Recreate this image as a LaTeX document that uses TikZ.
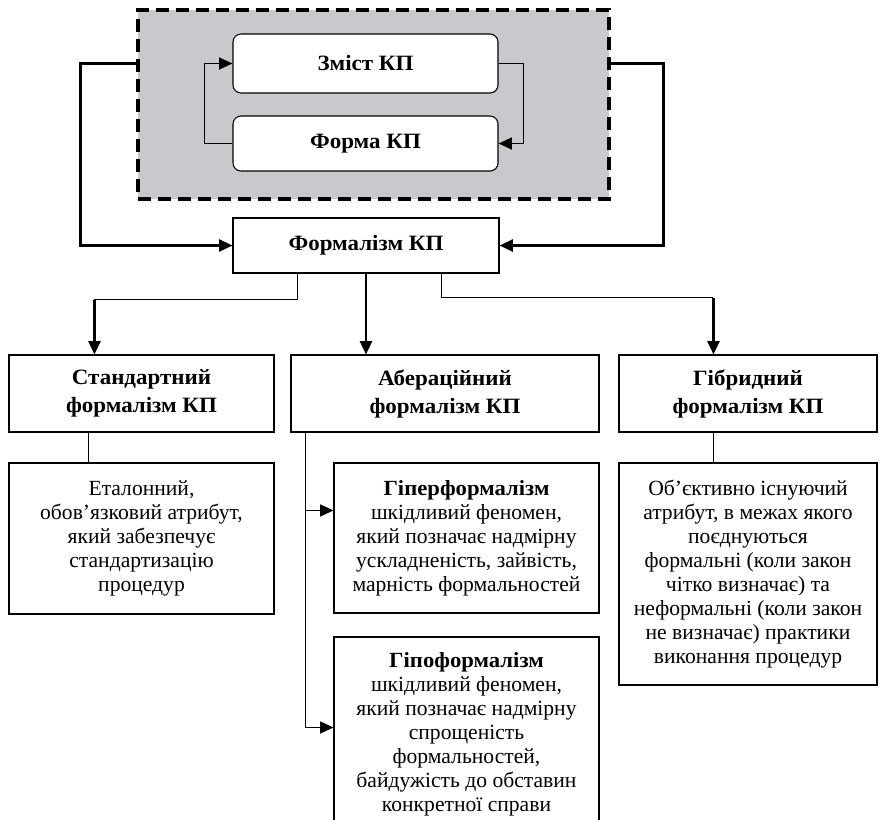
\documentclass[tikz,border=0pt]{standalone}
\usepackage{fontspec}
\setmainfont{Liberation Serif}[BoldFeatures={FakeStretch=1.05}]
\usepackage{tikz}
\usetikzlibrary{arrows.meta, positioning, calc}

\definecolor{grpgray}{RGB}{200,201,204}
\tikzset{
  sz/.style 2 args={minimum width=#1*0.75pt, minimum height=#2*0.75pt},
  box/.style={draw, line width=0.8pt, align=center, inner sep=0pt, fill=white,
    font=\fontsize{16.2}{18}\selectfont},
  head/.style={box, font=\fontsize{16.4}{21}\selectfont\bfseries},
  rbox/.style={head, rounded corners=6pt},
  grpbox/.style={draw, line width=2.4pt, dash pattern=on 9.5pt off 5.5pt, fill=grpgray},
  link/.style={line width=0.8pt},
  arr/.style={line width=1pt, -{Triangle[length=10pt,width=9pt]}},
  conn/.style={line width=1.8pt, -{Triangle[length=10pt,width=9pt]}}
}

\begin{document}
\begin{tikzpicture}[x=0.75pt, y=-0.75pt]
  \useasboundingbox (0,0) rectangle (880,819);

  % content / form group
  \node[grpbox, sz={471}{189}] (grp) at (373.5,104.5) {};
  \node[rbox, sz={265}{59}] (zmist) at (365.5,63.5) {Зміст КП};
  \node[rbox, sz={265}{55}] (forma) at (365.5,143.5) {Форма КП};
  \draw[arr] (zmist.east) -- ++(25,0) |- (forma.east);
  \draw[arr] (forma.west) -- ++(-28,0) |- (zmist.west);

  % formalism
  \node[head, sz={266}{55}] (formal) at (366,245.5) {Формалізм КП};
  \draw[conn] (grp.west |- zmist.west) -- ++(-56,0) |- (formal.west);
  \draw[conn] (grp.east |- zmist.east) -- ++(53,0) |- (formal.east);

  % kinds of formalism
  \node[head, sz={265}{77}] (std) at (141.5,393.5) {Стандартний\\формалізм КП};
  \node[head, sz={308}{77}] (aber) at (445,393.5) {Абераційний\\формалізм КП};
  \node[head, sz={258}{77}] (hybr) at (748,393.5) {Гібридний\\формалізм КП};

  \coordinate (sb) at ($(formal.south west)+(65,26)$);
  \coordinate (hb) at ($(formal.south west)+(209,24)$);
  \draw[link] ($(formal.south west)+(65,0)$) -- (sb) -- (sb -| {$(std.north west)+(86,0)$});
  \draw[conn] (sb -| {$(std.north west)+(86,0)$}) -- ($(std.north west)+(86,0)$);
  \draw[conn] (formal.south) -- (formal.south |- aber.north);
  \draw[link] ($(formal.south west)+(209,0)$) -- (hb) -- (hb -| {$(hybr.north west)+(95,0)$});
  \draw[conn] (hb -| {$(hybr.north west)+(95,0)$}) -- ($(hybr.north west)+(95,0)$);

  % descriptions
  \node[box, sz={265}{151}] (stdd) at (141.5,538.5)
    {Еталонний,\\обов’язковий атрибут,\\який забезпечує\\стандартизацію\\процедур};
  \node[box, sz={265}{150}] (hyper) at (466.5,538)
    {\textbf{Гіперформалізм}\\шкідливий феномен,\\який позначає надмірну\\ускладненість, зайвість,\\марність формальностей};
  \node[box, sz={265}{194}] (hypo) at (466.5,734)
    {\textbf{Гіпоформалізм}\\шкідливий феномен,\\який позначає надмірну\\спрощеність\\формальностей,\\байдужість до обставин\\конкретної справи};
  \node[box, sz={258}{222}] (hybrd) at (748,574)
    {Об’єктивно існуючий\\атрибут, в межах якого\\поєднуються\\формальні (коли закон\\чітко визначає) та\\неформальні (коли закон\\не визначає) практики\\виконання процедур};

  \draw[link] ($(std.south west)+(80,0)$) -- ($(stdd.north west)+(80,0)$);
  \draw[link] ($(hybr.south west)+(95,0)$) -- ($(hybrd.north west)+(95,0)$);
  \coordinate (ab) at ($(aber.south west)+(15,0)$);
  \draw[arr] (ab) |- ($(hypo.north west)+(0,91)$);
  \draw[arr] (ab |- hyper.north west) ++(0,48) -- ($(hyper.north west)+(0,48)$);
\end{tikzpicture}
\end{document}
